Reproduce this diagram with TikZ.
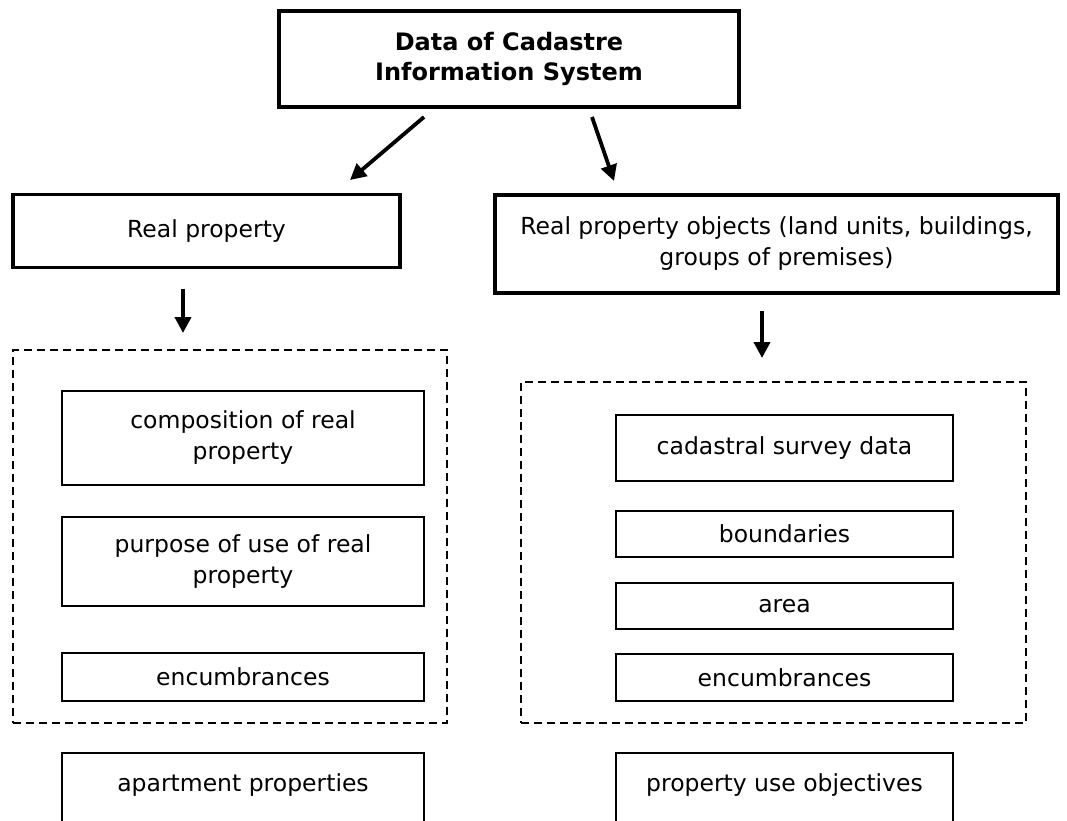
\documentclass[tikz,border=0pt]{standalone}
\usepackage{fontspec}
\setmainfont{DejaVu Sans}
\usetikzlibrary{arrows.meta}
\begin{document}
\begin{tikzpicture}[x=1pt,y=-1pt,
  txt/.style={font=\fontsize{23.5}{31}\selectfont, align=center, inner sep=0pt},
  mainbox/.style={txt, draw, line width=3.6pt, rectangle},
  inbox/.style={txt, draw, line width=2.4pt, rectangle},
  dashbox/.style={draw, line width=2.4pt, dash pattern=on 8pt off 5pt},
  arr/.style={line width=3.8pt, -{Triangle[length=16pt,width=16pt]}}]
\useasboundingbox (0,0) rectangle (1067,820);
\clip (0,0) rectangle (1067,820);
\fill[white] (0,0) rectangle (1067,820);
% main boxes
\node[mainbox, minimum width=460, minimum height=96, font=\fontsize{24}{30}\selectfont\bfseries] (top) at (509,59) {Data of Cadastre\\Information System};
\node[mainbox, minimum width=387, minimum height=73] (rp) at (206.5,231) {Real property};
\node[mainbox, minimum width=563, minimum height=98] (rpo) at (776.5,244) {Real property objects (land units, buildings,\\groups of premises)};
% dashed groups
\node[dashbox, minimum width=434, minimum height=373, inner sep=0pt] (lg) at (230,536.5) {};
\node[dashbox, minimum width=505, minimum height=341, inner sep=0pt] (rg) at (773.5,552.5) {};
% left inner boxes
\node[inbox, minimum width=362, minimum height=94] (comp) at (243,438) {composition of real\\property};
\node[inbox, minimum width=362, minimum height=89] (purp) at (243,561.5) {purpose of use of real\\property};
\node[inbox, minimum width=362, minimum height=48] (enc1) at (243,677) {encumbrances};
\node[inbox, minimum width=362, anchor=north, inner ysep=21pt, text height=17pt, text depth=60pt] (apt) at (243,752) {apartment properties};
% right inner boxes
\node[inbox, minimum width=337, minimum height=66] (cad) at (784.5,448) {cadastral survey data};
\node[inbox, minimum width=337, minimum height=46] (bnd) at (784.5,534) {boundaries};
\node[inbox, minimum width=337, minimum height=46] (area) at (784.5,606) {area};
\node[inbox, minimum width=337, minimum height=47] (enc2) at (784.5,677.5) {encumbrances};
\node[inbox, minimum width=337, anchor=north, inner ysep=21pt, text height=17pt, text depth=60pt] (puo) at (784.5,752) {property use objectives};
% arrow endpoints
\coordinate (a1s) at (424,117);
\coordinate (a1e) at (350,180);
\coordinate (a2s) at (592,117);
\coordinate (a2e) at (614,181);
\coordinate (a3s) at (183,289);
\coordinate (a3e) at (183,333);
\coordinate (a4s) at (762,311);
\coordinate (a4e) at (762,358);
\draw[arr] (a1s) -- (a1e);
\draw[arr] (a2s) -- (a2e);
\draw[arr] (a3s) -- (a3e);
\draw[arr] (a4s) -- (a4e);
\end{tikzpicture}
\end{document}
